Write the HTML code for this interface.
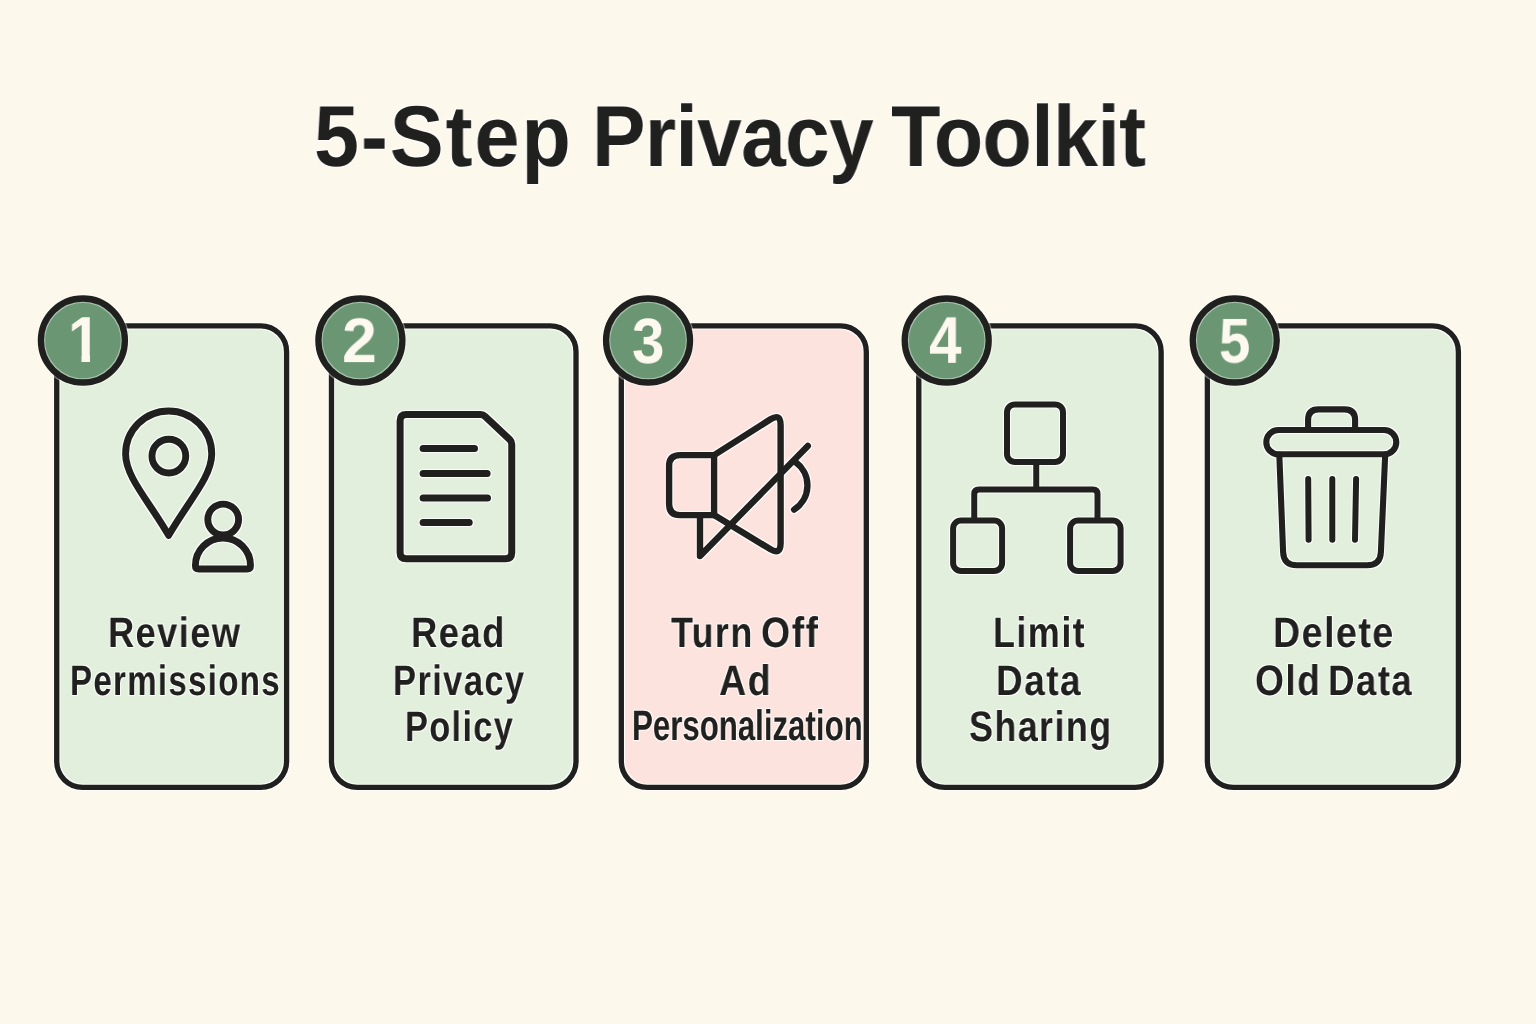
<!DOCTYPE html>
<html lang="en">
<head>
<meta charset="utf-8">
<title>5-Step Privacy Toolkit</title>
<style>
html,body{margin:0;padding:0;}
body{width:1536px;height:1024px;overflow:hidden;background:#fdf8ec;color:#20211f;
  font-family:"Liberation Sans",Arial,Helvetica,sans-serif;font-weight:700;}
.page{position:relative;width:1536px;height:1024px;overflow:hidden;background:#fdf8ec;}
h1,h2,ol,li,p{margin:0;padding:0;font-weight:inherit;font-size:inherit;list-style:none;}
.t{position:absolute;white-space:nowrap;line-height:1;transform-origin:0 0;display:block;will-change:transform;text-rendering:geometricPrecision;}
.steps{position:absolute;left:0;top:0;width:1536px;height:1024px;}
.art{position:absolute;left:0;top:0;width:1536px;height:1024px;overflow:visible;pointer-events:none;}
.art *{stroke:#20211f;}
.line{fill:none;filter:url(#halo);}
.card{stroke-width:5.35px;}
.badge{stroke-width:6.3px;filter:url(#halo2);}
.fill{stroke:none;}
.icon *{stroke-linecap:round;stroke-linejoin:round;}
h1,h2{filter:url(#halo);}
.num{color:#fdf9ee;}
</style>
</head>
<body>
<main class="page">
<svg width="0" height="0" style="position:absolute" aria-hidden="true"><defs><filter id="halo" filterUnits="userSpaceOnUse" x="0" y="0" width="1536" height="1024" color-interpolation-filters="sRGB"><feMorphology in="SourceAlpha" operator="dilate" radius="1" result="d"/><feGaussianBlur in="d" stdDeviation="0.5" result="b"/><feFlood flood-color="#fff" flood-opacity="0.85"/><feComposite in2="b" operator="in" result="h"/><feMerge><feMergeNode in="h"/><feMergeNode in="SourceGraphic"/></feMerge></filter><filter id="halo2" filterUnits="userSpaceOnUse" x="0" y="0" width="1536" height="1024" color-interpolation-filters="sRGB"><feMorphology in="SourceAlpha" operator="dilate" radius="1" result="d"/><feGaussianBlur in="d" stdDeviation="0.5" result="b"/><feFlood flood-color="#fff" flood-opacity="0.4"/><feComposite in2="b" operator="in" result="h"/><feMerge><feMergeNode in="h"/><feMergeNode in="SourceGraphic"/></feMerge></filter></defs></svg>
<h1><span class="t" style="left:314.04px;top:93.50px;font-size:86.47px;letter-spacing:0.025em;transform:scaleX(0.9333);">5-Step</span> <span class="t" style="left:592.14px;top:93.50px;font-size:86.47px;letter-spacing:-0.008em;transform:scaleX(0.9279);">Privacy</span> <span class="t" style="left:890.94px;top:93.50px;font-size:86.47px;letter-spacing:-0.008em;transform:scaleX(0.9350);">Toolkit</span></h1>
<ol class="steps">
<li class="step">
<svg class="art" viewBox="0 0 1536 1024" aria-hidden="true">
<rect class="fill" x="56.75" y="325.84" width="229.83" height="461.49" rx="25.82" fill="#e2efdc"/>
<rect class="card line" x="56.75" y="325.84" width="229.83" height="461.49" rx="25.82"/>
<g class="icon line"><g stroke-width="6.9">
<path d="M168.66 535.4 C149.89 502.28 125.6 477.32 125.6 454 A43.06 43.06 0 0 1 211.72 454 C211.72 477.32 187.43 502.28 168.66 535.4 Z"/>
<circle cx="168.85" cy="456.1" r="16.9"/>
<circle cx="223.2" cy="519.55" r="15.4"/>
<path d="M195.4 565.5 A27.55 27.55 0 0 1 250.5 565.5 Q250.5 569 247 569 H198.9 Q195.4 569 195.4 565.5 Z"/>
</g></g>
<circle class="fill" cx="82.9" cy="340.5" r="42.00" fill="#6b9673"/>
<circle class="badge line" cx="82.9" cy="340.5" r="42.00"/>
</svg>
<h2>
<span class="t" style="left:107.99px;top:611.98px;font-size:42.38px;letter-spacing:0.04em;transform:scaleX(0.8543);">Review</span>
<span class="t" style="left:69.92px;top:659.98px;font-size:42.38px;letter-spacing:0.04em;transform:scaleX(0.7792);">Permissions</span>
</h2>
<span class="t num" style="left:67.67px;top:306.81px;font-size:64.00px;clip-path:polygon(-20px -20px,200px -20px,200px 46.60px,24.05px 46.60px,24.05px 200px,14.70px 200px,14.70px 46.60px,-20px 46.60px);transform:scale(0.9131,1.0155);">1</span>
</li>
<li class="step">
<svg class="art" viewBox="0 0 1536 1024" aria-hidden="true">
<rect class="fill" x="331.48" y="325.84" width="244.52" height="461.49" rx="25.82" fill="#e2efdc"/>
<rect class="card line" x="331.48" y="325.84" width="244.52" height="461.49" rx="25.82"/>
<g class="icon line"><g stroke-width="7">
<path d="M406.3 414.45 H480.5 Q483.2 414.45 485.2 416.4 L509.8 439.6 Q511.75 441.5 511.75 444.3 V552.4 Q511.75 558.65 505.5 558.65 H406.3 Q400.1 558.65 400.1 552.4 V420.7 Q400.1 414.45 406.3 414.45 Z"/>
<path d="M423.1 448.4 H474.5 M423.1 473.4 H487.1 M423.1 498 H487.5 M423.1 522.6 H469.2"/>
</g></g>
<circle class="fill" cx="360.4" cy="340.5" r="42.00" fill="#6b9673"/>
<circle class="badge line" cx="360.4" cy="340.5" r="42.00"/>
</svg>
<h2>
<span class="t" style="left:411.28px;top:611.98px;font-size:42.38px;letter-spacing:0.04em;transform:scaleX(0.8600);">Read</span>
<span class="t" style="left:393.24px;top:659.98px;font-size:42.38px;letter-spacing:0.04em;transform:scaleX(0.8138);">Privacy</span>
<span class="t" style="left:404.78px;top:705.98px;font-size:42.38px;letter-spacing:0.04em;transform:scaleX(0.8084);">Policy</span>
</h2>
<span class="t num" style="left:341.82px;top:309.27px;font-size:64.00px;transform:scale(0.9785,0.9828);">2</span>
</li>
<li class="step">
<svg class="art" viewBox="0 0 1536 1024" aria-hidden="true">
<rect class="fill" x="621.30" y="325.84" width="245.00" height="461.49" rx="25.82" fill="#fde3dd"/>
<rect class="card line" x="621.30" y="325.84" width="245.00" height="461.49" rx="25.82"/>
<g class="icon line"><g stroke-width="6.4">
<path d="M714.1 455.1 H680 Q669.1 455.1 669.1 466 V504 Q669.1 515.1 680 515.1 H714.1"/>
<path d="M714.1 455.1 V515.1"/>
<path d="M714.1 455.1 L770.5 419.3 Q780.6 413 780.6 425 V543 Q780.6 555.2 770.5 549.3 L714.1 515.1"/>
<path d="M700 515.1 V556 L807.8 445.9"/>
<path d="M795.6 462.2 A28.65 28.65 0 0 1 794.1 509.6"/>
</g></g>
<circle class="fill" cx="648.05" cy="340.5" r="42.00" fill="#6b9673"/>
<circle class="badge line" cx="648.05" cy="340.5" r="42.00"/>
</svg>
<h2>
<span class="t" style="left:671.12px;top:611.74px;font-size:42.66px;letter-spacing:0.04em;transform:scaleX(0.8400);">Turn</span> <span class="t" style="left:760.97px;top:611.74px;font-size:42.66px;letter-spacing:0.04em;transform:scaleX(0.8777);">Off</span>
<span class="t" style="left:718.99px;top:659.74px;font-size:42.66px;letter-spacing:0.04em;transform:scaleX(0.8822);">Ad</span>
<span class="t" style="left:631.58px;top:704.94px;font-size:42.66px;transform:scaleX(0.7317);">Personalization</span>
</h2>
<span class="t num" style="left:631.69px;top:309.39px;font-size:64.00px;transform:scale(0.9108,0.9973);">3</span>
</li>
<li class="step">
<svg class="art" viewBox="0 0 1536 1024" aria-hidden="true">
<rect class="fill" x="918.80" y="325.84" width="242.32" height="461.49" rx="25.82" fill="#e2efdc"/>
<rect class="card line" x="918.80" y="325.84" width="242.32" height="461.49" rx="25.82"/>
<g class="icon line"><g stroke-width="6">
<rect x="1007" y="404.4" width="56" height="57.5" rx="8"/>
<path d="M1036.25 462 V488.5"/>
<path d="M974.25 520 V494 Q974.25 489.5 979 489.5 H1093 Q1097.5 489.5 1097.5 494 V520"/>
<rect x="953.1" y="520.6" width="49" height="50.3" rx="8"/>
<rect x="1070.1" y="520.6" width="50.5" height="50.3" rx="8"/>
</g></g>
<circle class="fill" cx="946.7" cy="340.5" r="42.00" fill="#6b9673"/>
<circle class="badge line" cx="946.7" cy="340.5" r="42.00"/>
</svg>
<h2>
<span class="t" style="left:993.10px;top:611.74px;font-size:42.66px;letter-spacing:0.04em;transform:scaleX(0.8431);">Limit</span>
<span class="t" style="left:995.77px;top:659.74px;font-size:42.66px;letter-spacing:0.04em;transform:scaleX(0.8672);">Data</span>
<span class="t" style="left:969.00px;top:705.74px;font-size:42.66px;letter-spacing:0.04em;transform:scaleX(0.8406);">Sharing</span>
</h2>
<span class="t num" style="left:929.30px;top:307.46px;font-size:64.00px;transform:scale(0.9119,1.0335);">4</span>
</li>
<li class="step">
<svg class="art" viewBox="0 0 1536 1024" aria-hidden="true">
<rect class="fill" x="1207.38" y="325.84" width="251.00" height="461.49" rx="25.82" fill="#e2efdc"/>
<rect class="card line" x="1207.38" y="325.84" width="251.00" height="461.49" rx="25.82"/>
<g class="icon line"><g stroke-width="6.1">
<path d="M1308.1 430 V420 Q1308.1 409.4 1318.5 409.4 H1344.5 Q1355.1 409.4 1355.1 420 V430"/>
<rect x="1266.3" y="430" width="130" height="24.3" rx="12.15"/>
<path d="M1279.3 454.5 L1283.1 552 Q1283.6 565.3 1297 565.3 H1367 Q1380.4 565.3 1380.9 552 L1385.2 454.5"/>
<path d="M1308.2 479 L1308.6 539.7 M1332.3 479 V539.7 M1356.1 479 L1355 539.7" stroke-width="6"/>
</g></g>
<circle class="fill" cx="1234.75" cy="340.5" r="42.00" fill="#6b9673"/>
<circle class="badge line" cx="1234.75" cy="340.5" r="42.00"/>
</svg>
<h2>
<span class="t" style="left:1273.23px;top:611.74px;font-size:42.66px;letter-spacing:0.04em;transform:scaleX(0.8804);">Delete</span>
<span class="t" style="left:1254.77px;top:659.74px;font-size:42.66px;letter-spacing:0.04em;transform:scaleX(0.8695);">Old</span> <span class="t" style="left:1328.40px;top:659.74px;font-size:42.66px;letter-spacing:0.04em;transform:scaleX(0.8582);">Data</span>
</h2>
<span class="t num" style="left:1219.13px;top:309.48px;font-size:64.00px;transform:scale(0.8810,0.9878);">5</span>
</li>
</ol>
</main>
</body>
</html>
